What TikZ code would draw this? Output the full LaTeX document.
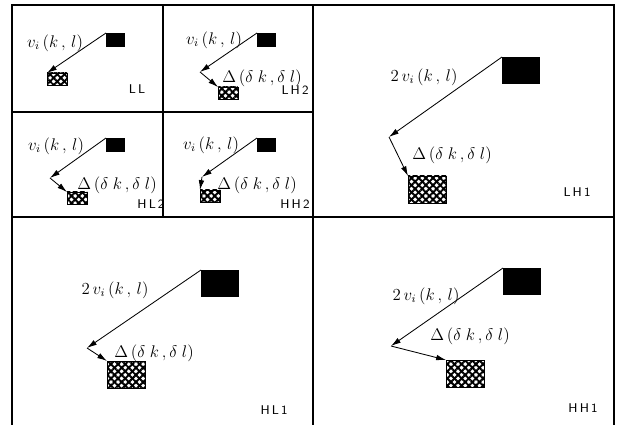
\documentclass[tikz,border=0pt]{standalone}
\usepackage{amsmath,amssymb}
\usepackage{tikz}
\usetikzlibrary{arrows.meta,patterns.meta}

\tikzset{
  frame/.style={line width=0.9pt},
  refblk/.style={fill=black,inner sep=0pt,outer sep=0pt,anchor=north west},
  curblk/.style={draw=black,line width=0.5pt,fill=white,inner sep=0pt,outer sep=0pt,anchor=north west,
    postaction={pattern={Lines[angle=45,distance=3.6pt,line width=1.4pt]}},
    postaction={pattern={Lines[angle=-45,distance=3.6pt,line width=1.4pt]}}},
  smallblk/.style={minimum width=4.75mm,minimum height=3.4mm},
  smallcur/.style={minimum width=5mm,minimum height=3mm},
  bigblk/.style={minimum width=9.6mm,minimum height=6.8mm},
  mv/.style={line width=0.6pt,-{Latex[length=7pt,width=4pt]}},
  lbl/.style={font=\large},
  tag/.style={font=\sffamily\small}
}

\begin{document}
\begin{tikzpicture}[x=0.25mm,y=-0.25mm]
  \useasboundingbox (0,0) rectangle (618,425);
  % panel grid
  \draw[frame] (12,425) -- (12,5) -- (614,5) -- (614,425);
  \draw[frame] (12,217) -- (614,217);
  \draw[frame] (313,5) -- (313,425);
  \draw[frame] (163,5) -- (163,217);
  \draw[frame] (12,112) -- (313,112);

  % LL: plain motion vector
  \node[refblk,smallblk] (refLL) at (106,33) {};
  \node[curblk,smallcur] (curLL) at (47,73) {};
  \draw[mv] (refLL.north west) -- (curLL.north west);
  \node[lbl] (vLL) at (55,43) {$v_i\,(k\,,\,l)$};
  \node[tag] (tLL) at (137,89) {L\,L};

  % LH2
  \node[refblk,smallblk] (refLHt) at (257,33) {};
  \coordinate (bLHt) at (200,72);
  \node[curblk,smallcur] (curLHt) at (218,87) {};
  \draw[mv] (refLHt.north west) -- (bLHt);
  \draw[mv] (bLHt) -- (curLHt.north west);
  \node[lbl] (vLHt) at (214,40) {$v_i\,(k\,,\,l)$};
  \node[lbl] (dLHt) at (262,78) {$\Delta\,(\delta\;k\,,\delta\;l)$};
  \node[tag] (tLHt) at (295,90) {L\,H\,2};

  % HL2
  \node[refblk,smallblk] (refHLt) at (106,138) {};
  \coordinate (bHLt) at (50,178);
  \node[curblk,smallcur] (curHLt) at (67,192) {};
  \draw[mv] (refHLt.north west) -- (bHLt);
  \draw[mv] (bHLt) -- (curHLt.north west);
  \node[lbl] (vHLt) at (56,146) {$v_i\,(k\,,\,l)$};
  \node[lbl] (dHLt) at (117,185) {$\Delta\,(\delta\;k\,,\delta\;l)$};
  \node[tag] (tHLt) at (151,204) {H\,L\,2};

  % HH2
  \node[refblk,smallblk] (refHHt) at (257,138) {};
  \coordinate (bHHt) at (202,177);
  \node[curblk,smallcur] (curHHt) at (200,190) {};
  \draw[mv] (refHHt.north west) -- (bHHt);
  \draw[mv] (bHHt) -- (curHHt.north west);
  \node[lbl] (vHHt) at (211,145) {$v_i\,(k\,,\,l)$};
  \node[lbl] (dHHt) at (257,185) {$\Delta\,(\delta\;k\,,\delta\;l)$};
  \node[tag] (tHHt) at (295,204) {H\,H\,2};

  % LH1
  \node[refblk,bigblk] (refLHo) at (502,57) {};
  \coordinate (bLHo) at (389,137);
  \node[curblk,bigblk] (curLHo) at (408,176) {};
  \draw[mv] (refLHo.north west) -- (bLHo);
  \draw[mv] (bLHo) -- (curLHo.north west);
  \node[lbl] (vLHo) at (424,77) {$2\,v_i\,(k\,,\,l)$};
  \node[lbl] (dLHo) at (452,155) {$\Delta\,(\delta\;k\,,\delta\;l)$};
  \node[tag] (tLHo) at (577,192) {L\,H\,1};

  % HL1
  \node[refblk,bigblk] (refHLo) at (201,270) {};
  \coordinate (bHLo) at (87,348);
  \node[curblk,bigblk] (curHLo) at (107,361) {};
  \draw[mv] (refHLo.north west) -- (bHLo);
  \draw[mv] (bHLo) -- (curHLo.north west);
  \node[lbl] (vHLo) at (115,290) {$2\,v_i\,(k\,,\,l)$};
  \node[lbl] (dHLo) at (154,353) {$\Delta\,(\delta\;k\,,\delta\;l)$};
  \node[tag] (tHLo) at (274,410) {H\,L\,1};

  % HH1
  \node[refblk,bigblk] (refHHo) at (503,268) {};
  \coordinate (bHHo) at (391,346);
  \node[curblk,bigblk] (curHHo) at (446,360) {};
  \draw[mv] (refHHo.north west) -- (bHHo);
  \draw[mv] (bHHo) -- (curHHo.north west);
  \node[lbl] (vHHo) at (426,296) {$2\,v_i\,(k\,,\,l)$};
  \node[lbl] (dHHo) at (470,336) {$\Delta\,(\delta\;k\,,\delta\;l)$};
  \node[tag] (tHHo) at (583,408) {H\,H\,1};
\end{tikzpicture}
\end{document}
